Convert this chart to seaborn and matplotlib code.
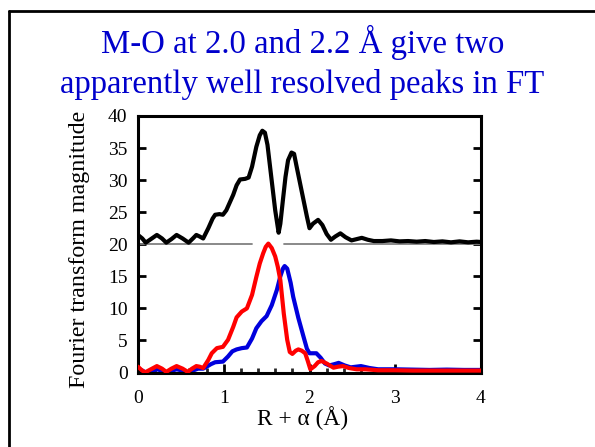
import numpy as np
import pandas as pd
import matplotlib
matplotlib.use("Agg")
import matplotlib.pyplot as plt
from matplotlib.lines import Line2D
from matplotlib.ticker import MultipleLocator
import seaborn as sns

# ---------------- data ----------------
title_lines = ["M-O at 2.0 and 2.2 \u00c5 give two",
               "apparently well resolved peaks in FT"]
x_label = "R + \u03b1 (\u00c5)"
y_label = "Fourier transform magnitude"
x_ticks = [0, 1, 2, 3, 4]
y_ticks = [0, 5, 10, 15, 20, 25, 30, 35, 40]

black_offset = 20.0
black_r = [0.00, 0.05, 0.09, 0.15, 0.22, 0.28, 0.33, 0.39, 0.45, 0.52, 0.59,
           0.64, 0.68, 0.72, 0.76, 0.82, 0.87, 0.90, 0.95, 0.99, 1.03, 1.11,
           1.15, 1.19, 1.25, 1.29, 1.33, 1.38, 1.42, 1.45, 1.48, 1.51, 1.54,
           1.57, 1.60, 1.64, 1.66, 1.69, 1.72, 1.75, 1.79, 1.82, 1.85, 1.89,
           1.93, 1.97, 2.00, 2.04, 2.10, 2.15, 2.20, 2.25, 2.30, 2.36, 2.42,
           2.49, 2.55, 2.61, 2.68, 2.75, 2.85, 2.95, 3.05, 3.15, 3.25, 3.35,
           3.45, 3.55, 3.65, 3.75, 3.85, 3.95, 4.00]
black_ft = [1.45, 0.90, 0.25, 0.80, 1.45, 0.90, 0.25, 0.80, 1.45, 0.90, 0.25,
            0.90, 1.45, 1.20, 0.90, 2.50, 4.00, 4.60, 4.70, 4.60, 5.30, 7.70,
            9.20, 10.1, 10.2, 10.4, 12.1, 15.2, 17.0, 17.7, 17.4, 15.5, 12.1,
            8.70, 5.30, 1.80, 3.20, 6.90, 10.5, 13.1, 14.3, 14.1, 12.1, 9.50,
            6.90, 4.30, 2.50, 3.20, 3.80, 3.00, 1.60, 0.70, 1.20, 1.70, 1.10,
            0.60, 0.80, 1.00, 0.70, 0.50, 0.50, 0.60, 0.45, 0.50, 0.40, 0.50,
            0.35, 0.45, 0.30, 0.45, 0.30, 0.40, 0.35]

red_r = [0.00, 0.04, 0.08, 0.15, 0.22, 0.28, 0.33, 0.39, 0.45, 0.52, 0.58,
         0.63, 0.68, 0.72, 0.76, 0.82, 0.86, 0.92, 0.99, 1.05, 1.11, 1.15,
         1.21, 1.27, 1.33, 1.38, 1.42, 1.46, 1.49, 1.52, 1.56, 1.60, 1.63,
         1.66, 1.70, 1.74, 1.77, 1.80, 1.84, 1.87, 1.91, 1.95, 1.98, 2.01,
         2.06, 2.10, 2.14, 2.20, 2.28, 2.33, 2.39, 2.46, 2.55, 2.65, 2.80,
         3.00, 3.20, 3.40, 3.60, 3.80, 4.00]
red_ft = [0.90, 0.40, 0.00, 0.50, 1.00, 0.60, 0.10, 0.60, 1.00, 0.60, 0.10,
          0.60, 1.00, 0.90, 0.70, 1.95, 3.00, 3.80, 4.00, 5.10, 7.10, 8.60,
          9.50, 10.0, 12.1, 14.9, 17.0, 18.6, 19.6, 20.1, 19.4, 18.1, 16.5,
          14.4, 9.20, 5.10, 3.20, 2.90, 3.40, 3.60, 3.40, 3.00, 1.80, 0.50,
          1.00, 1.60, 1.80, 1.40, 0.75, 0.90, 1.00, 0.70, 0.50, 0.50, 0.35,
          0.35, 0.30, 0.30, 0.30, 0.30, 0.30]

blue_r = [0.00, 0.05, 0.09, 0.16, 0.22, 0.28, 0.33, 0.40, 0.45, 0.52, 0.58,
          0.64, 0.70, 0.76, 0.80, 0.85, 0.90, 0.99, 1.05, 1.10, 1.15, 1.21,
          1.27, 1.33, 1.38, 1.44, 1.50, 1.56, 1.62, 1.66, 1.69, 1.71, 1.74,
          1.78, 1.81, 1.87, 1.93, 1.97, 2.00, 2.04, 2.08, 2.13, 2.18, 2.23,
          2.29, 2.34, 2.41, 2.48, 2.54, 2.60, 2.70, 2.80, 3.00, 3.20, 3.40,
          3.60, 3.80, 4.00]
blue_ft = [0.60, 0.30, 0.00, 0.30, 0.50, 0.30, 0.00, 0.30, 0.50, 0.30, 0.00,
           0.30, 0.60, 0.60, 0.90, 1.30, 1.60, 1.70, 2.50, 3.30, 3.60, 3.80,
           3.90, 5.30, 6.90, 8.00, 8.80, 10.5, 12.9, 15.0, 16.2, 16.6, 16.2,
           14.0, 11.8, 8.50, 5.60, 3.70, 3.00, 3.00, 3.00, 2.30, 1.40, 1.10,
           1.30, 1.50, 1.10, 0.80, 0.90, 1.00, 0.70, 0.50, 0.50, 0.45, 0.40,
           0.45, 0.40, 0.40]

baseline_segments = [(0.0, 1.33), (1.70, 4.0)]

# ---------------- style ----------------
W, H, DPI = 595, 447, 100
sns.set_style("ticks")
plt.rcParams["font.family"] = ["Liberation Serif", "DejaVu Serif"]

fig = plt.figure(figsize=(W / DPI, H / DPI), dpi=DPI)
ax_l, ax_r, ax_t, ax_b = 138, 481, 116, 372.5
ax = fig.add_axes([ax_l / W, 1 - ax_b / H, (ax_r - ax_l) / W, (ax_b - ax_t) / H])

lw = 3.0
blue_df = pd.DataFrame({"r": blue_r, "ft": blue_ft})
red_df = pd.DataFrame({"r": red_r, "ft": red_ft})
black_df = pd.DataFrame({"r": black_r, "ft": np.array(black_ft) + black_offset})

for s0, s1 in baseline_segments:
    seg = pd.DataFrame({"r": [s0, s1], "ft": [black_offset, black_offset]})
    sns.lineplot(data=seg, x="r", y="ft", ax=ax, color="#808080", lw=1.3,
                 estimator=None, sort=False, zorder=1)

common = dict(x="r", y="ft", ax=ax, estimator=None, sort=False, lw=lw,
              solid_joinstyle="round", solid_capstyle="round")
sns.lineplot(data=blue_df, color="#0000DD", zorder=2, **common)
sns.lineplot(data=red_df, color="#FF0000", zorder=3, **common)
sns.lineplot(data=black_df, color="black", zorder=4, **common)

ax.set_xlim(0, 4)
ax.set_ylim(0, 40)
ax.set_xticks(x_ticks)
ax.set_xticklabels([str(v) for v in x_ticks])
ax.set_yticks(y_ticks)
ax.set_yticklabels([str(v) for v in y_ticks])
ax.xaxis.set_minor_locator(MultipleLocator(0.2))
ax.set_xlabel("")
ax.set_ylabel("")
for sp in ax.spines.values():
    sp.set_visible(True)
    sp.set_linewidth(2.2)
    sp.set_color("black")
ax.tick_params(axis="x", which="major", direction="in", length=6.5, width=2.0,
               pad=12.5, labelsize=14, bottom=True, top=False, colors="black")
ax.tick_params(axis="x", which="minor", direction="in", length=3.6, width=2.0,
               bottom=True, top=False)
ax.tick_params(axis="y", which="major", direction="in", length=6.0, width=2.0,
               pad=7.5, labelsize=14, left=True, right=True, colors="black")
ax.set_facecolor("white")

# titles and axis labels as figure text (pixel-positioned)
def fx(px):
    return px / W

def fy(py):
    return 1 - py / H

title_color = "#0000CC"
fig.text(fx(302.4), fy(53.3), title_lines[0], ha="center", va="baseline",
         fontsize=23.6, color=title_color)
fig.text(fx(302.0), fy(92.7), title_lines[1], ha="center", va="baseline",
         fontsize=23.6, color=title_color)
fig.text(fx(302.5), fy(425), x_label, ha="center", va="baseline",
         fontsize=16.8, color="black")
fig.text(fx(85), fy(249), y_label, ha="center", va="baseline",
         rotation=90, rotation_mode="anchor", fontsize=17.3, color="black")

# slide frame (top and left edges visible)
fig.add_artist(Line2D([fx(8.8), 1.0], [fy(10.5), fy(10.5)], color="black",
                      lw=2.0, transform=fig.transFigure))
fig.add_artist(Line2D([fx(8.8), fx(8.8)], [fy(10.5), 0.0], color="black",
                      lw=2.0, transform=fig.transFigure))

fig.savefig("out.png", dpi=DPI, facecolor="white")
